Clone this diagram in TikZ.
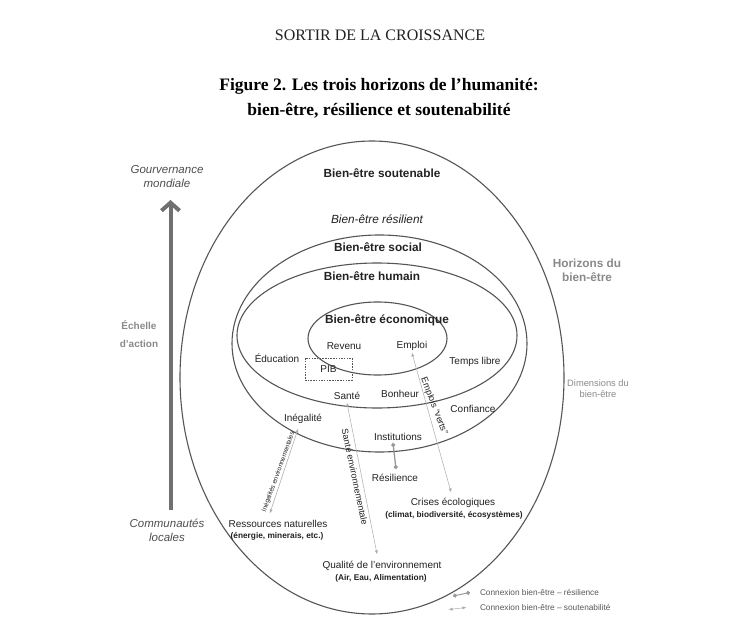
\documentclass[tikz,border=0pt]{standalone}
\usepackage{fontspec}
\setmainfont{Liberation Sans}
\newfontfamily\titleserif{Liberation Serif}
\usetikzlibrary{arrows.meta}
\definecolor{ellc}{HTML}{555555}
\definecolor{connc}{HTML}{ABABAB}
\definecolor{resc}{HTML}{999999}
\definecolor{sidec}{HTML}{8A8A8A}
\definecolor{txtc}{HTML}{222222}
\definecolor{scalec}{HTML}{707070}
\tikzset{
  ellline/.style={draw=ellc, line width=1.1pt},
  heading/.style={font=\fontsize{11.8}{14}\selectfont\bfseries, text=txtc},
  lab/.style={font=\fontsize{10}{12}\selectfont, text=txtc},
  sublab/.style={font=\fontsize{8.3}{10}\selectfont\bfseries, text=txtc},
  sidehead/.style={font=\fontsize{11.8}{14}\selectfont\bfseries, text=sidec},
  sidesmall/.style={font=\fontsize{9.3}{11}\selectfont, text=sidec},
  scaletxt/.style={font=\fontsize{10}{12}\selectfont\bfseries, text=sidec},
  scaleend/.style={font=\fontsize{11.5}{14}\selectfont\itshape, text=txtc!80},
  conn/.style={draw=connc, line width=0.5pt, {Triangle[length=3.6pt,width=2.8pt]}-{Triangle[length=3.6pt,width=2.8pt]}},
  resconn/.style={draw=resc, line width=1.3pt, {Circle[length=4pt]}-{Circle[length=4pt]}},
  conntxt/.style={font=\fontsize{9}{11}\selectfont, text=txtc},
  legtxt/.style={font=\fontsize{8.3}{10}\selectfont, text=black!65, anchor=west},
  pibbox/.style={draw=ellc, dashed, dash pattern=on 1.5pt off 1.2pt, line width=0.6pt, minimum width=47pt, minimum height=22pt},
  scalearrow/.style={draw=scalec, line width=4pt, -{Straight Barb[length=8pt,width=18pt]}}
}
\begin{document}
\begin{tikzpicture}[x=1pt,y=-1pt, every node/.style={inner sep=0pt, outer sep=0pt}]
\useasboundingbox (0,0) rectangle (748,642);
\fill[white] (0,0) rectangle (748,642);

% titles
\node[font=\titleserif\fontsize{16}{19}\selectfont, text=txtc] (runhead) at (380,35) {SORTIR DE LA CROISSANCE};
\node[font=\titleserif\fontsize{17.5}{21}\selectfont\bfseries, text=black] (title1) at (379,86) {Figure 2. Les trois horizons de l’humanité:};
\node[font=\titleserif\fontsize{17.5}{21}\selectfont\bfseries, text=black] (title2) at (379,111) {bien-être, résilience et soutenabilité};

% ellipses
\draw[ellline] (372,377.5) ellipse [x radius=192, y radius=236.5];
\draw[ellline] (379.5,343.5) ellipse [x radius=147.5, y radius=108.5];
\draw[ellline] (377,335.5) ellipse [x radius=140, y radius=72.5];
\draw[ellline] (377.5,338.5) ellipse [x radius=69.5, y radius=36.5];

% headings
\node[heading] (soutenable) at (382,173) {Bien-être soutenable};
\node[font=\fontsize{11.8}{14}\selectfont\itshape, text=txtc] (resilient) at (377,219) {Bien-être résilient};
\node[heading] (social) at (378,247) {Bien-être social};
\node[heading] (humain) at (372,276) {Bien-être humain};
\node[heading] (economique) at (387,320) {Bien-être économique};

% labels
\node[lab] (revenu) at (344,346) {Revenu};
\node[lab] (emploi) at (412,346) {Emploi};
\node[lab] (education) at (277,358) {Éducation};
\node[lab, pibbox] (pib) at (328.5,369) {PIB};
\node[lab] (temps) at (475,362) {Temps libre};
\node[lab] (sante) at (347,396) {Santé};
\node[lab] (bonheur) at (400,394) {Bonheur};
\node[lab] (confiance) at (473,409) {Confiance};
\node[lab] (inegalite) at (303,419) {Inégalité};
\node[lab] (institutions) at (398,437) {Institutions};
\node[lab] (resilience) at (395,478) {Résilience};
\node[lab] (crises) at (453,503) {Crises écologiques};
\node[sublab] (crisesdet) at (454,515) {(climat, biodiversité, écosystèmes)};
\node[lab] (ressources) at (278,524) {Ressources naturelles};
\node[sublab] (ressourcesdet) at (277,536) {(énergie, minerais, etc.)};
\node[lab] (qualite) at (382,566) {Qualité de l'environnement};
\node[sublab] (qualitedet) at (381,578) {(Air, Eau, Alimentation)};

% connector ends
\coordinate (inegA) at (298,429);
\coordinate (inegB) at (270,513);
\coordinate (santeA) at (347,403);
\coordinate (santeB) at (377,554);
\coordinate (emploiA) at (412,353);
\coordinate (emploiB) at (451,492);
\coordinate (instA) at (393,443);
\coordinate (instB) at (396,469);

\draw[conn] (inegA) -- (inegB);
\draw[conn] (santeA) -- (santeB);
\draw[conn] (emploiA) -- (emploiB);
\draw[resconn] (instA) -- (instB);

\node[font=\fontsize{6.5}{8}\selectfont, text=txtc, rotate=70] (inegtxt) at (278.5,472) {Inégalités environnementales};
\node[conntxt, rotate=-78] (santetxt) at (355,477) {Santé environnementale};
\node[conntxt, rotate=-69] (emploitxt) at (434,406) {Emplois “verts”};

% side labels
\node[sidehead, align=center] (horizons) at (587,270) {Horizons du\\bien-être};
\node[sidesmall, align=center] (dimensions) at (598,389) {Dimensions du\\bien-être};

% scale arrow
\coordinate (scaleBottom) at (170.5,510);
\coordinate (scaleTop) at (170.5,200);
\draw[scalearrow] (scaleBottom) -- (scaleTop);
\node[scaleend, align=center] (gouv) at (167,176.5) {Gourvernance\\mondiale};
\node[scaletxt] (echelle) at (139,325) {Échelle};
\node[scaletxt] (daction) at (139,344) {d'action};
\node[scaleend, align=center] (commun) at (167,530) {Communautés\\locales};

% legend
\coordinate (legA1) at (453,596);
\coordinate (legA2) at (470,592.5);
\coordinate (legB1) at (449,609.5);
\coordinate (legB2) at (466,607.5);
\draw[resconn, line width=1pt] (legA1) -- (legA2);
\draw[conn] (legB1) -- (legB2);
\node[legtxt] (leg1) at (480,592) {Connexion bien-être – résilience};
\node[legtxt] (leg2) at (480,607) {Connexion bien-être – soutenabilité};
\end{tikzpicture}
\end{document}
